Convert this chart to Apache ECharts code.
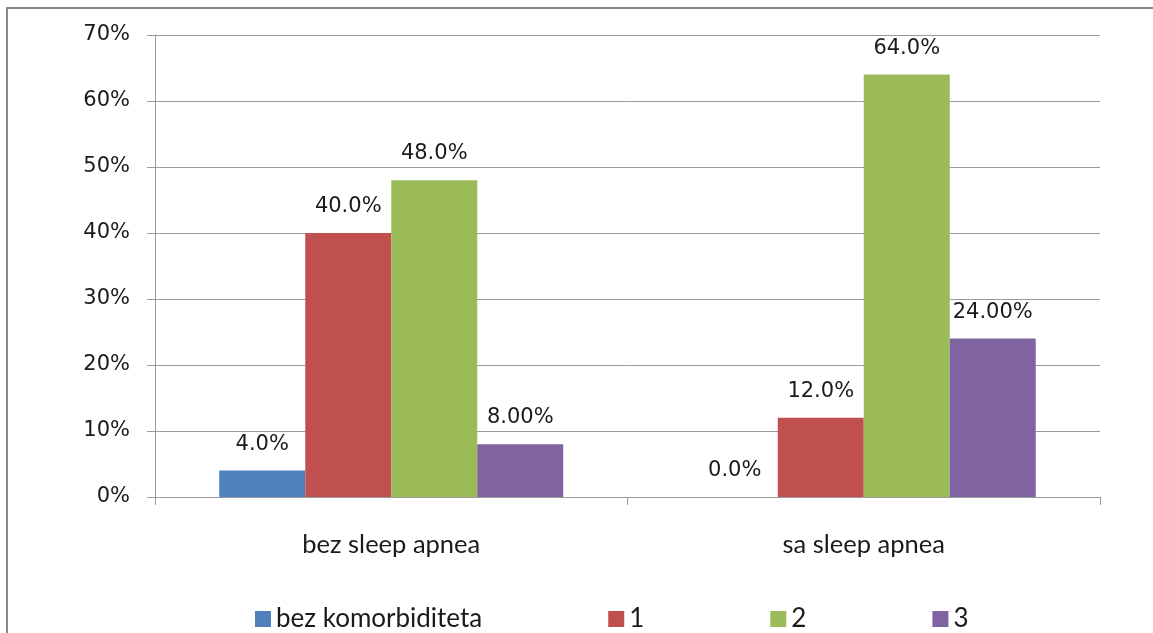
<!DOCTYPE html>
<html>
<head>
<meta charset="utf-8">
<script src="https://cdn.jsdelivr.net/npm/echarts@6/dist/echarts.min.js"></script>
<style>
  html, body { margin: 0; padding: 0; background: #fff; }
  #chart { width: 1153px; height: 633px; }
</style>
</head>
<body>
<div id="chart"></div>
<script>
// categories and series (values in %)
const categories = ['bez sleep apnea', 'sa sleep apnea'];
const seriesNames = ['bez komorbiditeta', '1', '2', '3'];
const bezKomorbiditeta = [4.0, 0.0];
const jedan = [40.0, 12.0];
const dva = [48.0, 64.0];
const tri = [8.0, 24.0];
const labelDecimals = [1, 1, 1, 2];
const yTicks = [0, 10, 20, 30, 40, 50, 60, 70];

const colors = ['#4F81BD', '#C0504D', '#9BBB59', '#8064A2'];
const numFont = 'DejaVu Sans';
const textFont = 'Lato';
const values = [bezKomorbiditeta, jedan, dva, tri];

const chart = echarts.init(document.getElementById('chart'));

const series = values.map((data, i) => ({
  name: seriesNames[i],
  type: 'bar',
  data: data,
  barWidth: '18.2%',
  barGap: '0%',
  itemStyle: { color: colors[i] },
  label: {
    show: true,
    position: 'top',
    distance: 16,
    color: '#1a1a1a',
    fontFamily: numFont,
    fontSize: 21,
    formatter: (p) => p.value.toFixed(labelDecimals[i]) + '%',
  },
}));

chart.setOption({
  animation: false,
  color: colors,
  grid: { left: 155, right: 53, top: 35, bottom: 136, containLabel: false },
  graphic: [
    {
      type: 'rect',
      shape: { x: 7, y: 8, width: 1170, height: 650 },
      style: { fill: 'none', stroke: '#8a8a8a', lineWidth: 2 },
      silent: true,
    },
  ],
  legend: {
    top: 601,
    left: 250,
    itemWidth: 16,
    itemHeight: 16,
    itemGap: 126,
    icon: 'rect',
    textStyle: { color: '#1a1a1a', fontFamily: textFont, fontSize: 26 },
    data: seriesNames,
  },
  xAxis: {
    type: 'category',
    data: categories,
    axisLine: { lineStyle: { color: '#9a9a9a', width: 1 } },
    axisTick: { show: true, length: 8, lineStyle: { color: '#9a9a9a' } },
    axisLabel: { color: '#1a1a1a', fontFamily: textFont, fontSize: 25.5, margin: 35 },
  },
  yAxis: {
    type: 'value',
    min: yTicks[0],
    max: yTicks[yTicks.length - 1],
    interval: 10,
    axisLine: { show: true, lineStyle: { color: '#9a9a9a', width: 1 } },
    axisTick: { show: true, length: 8, lineStyle: { color: '#9a9a9a' } },
    splitLine: { lineStyle: { color: '#9a9a9a', width: 1 } },
    axisLabel: {
      color: '#1a1a1a',
      fontFamily: numFont,
      fontSize: 21,
      margin: 25,
      formatter: (v) => v + '%',
    },
  },
  series: series,
});
</script>
</body>
</html>
